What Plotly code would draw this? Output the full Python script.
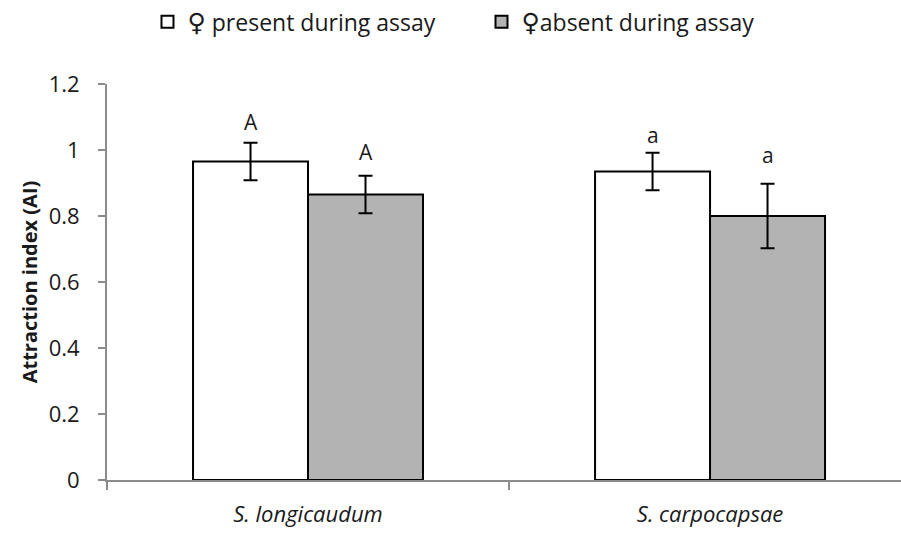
import plotly.graph_objects as go

# Nematode species on the x axis
species = ["S. longicaudum", "S. carpocapsae"]

# Mean attraction index and standard error for each treatment
present_mean = [0.965, 0.935]
present_err = [0.057, 0.057]
absent_mean = [0.865, 0.800]
absent_err = [0.057, 0.098]

# Significance letters and the height (AI units) at which they are written
present_sig = ["A", "a"]
absent_sig = ["A", "a"]
present_sig_y = [1.086, 1.045]
absent_sig_y = [0.995, 0.985]

FEMALE = '<span style="font-family:DejaVu Sans;font-size:25px">\u2640</span>'
series_names = [FEMALE + " present during assay", FEMALE + "absent during assay"]

FONT = "Open Sans"
TEXT = "#1a1a1a"
AXIS = "#8c8c8c"
BARGAP = 0.428

fig = go.Figure()
fig.add_trace(go.Bar(
    x=species, y=present_mean, name=series_names[0],
    marker=dict(color="white", line=dict(color="black", width=2)),
    error_y=dict(type="data", array=present_err, color="black",
                 thickness=2, width=7),
))
fig.add_trace(go.Bar(
    x=species, y=absent_mean, name=series_names[1],
    marker=dict(color="#b3b3b3", line=dict(color="black", width=2)),
    error_y=dict(type="data", array=absent_err, color="black",
                 thickness=2, width=7),
))

# Letters above each bar, centred on the bar within its group
offset = (1 - BARGAP) / 4
for i in range(len(species)):
    for dx, lab, yy in ((-offset, present_sig[i], present_sig_y[i]),
                        (offset, absent_sig[i], absent_sig_y[i])):
        fig.add_annotation(x=i + dx, y=yy, text=lab, showarrow=False,
                           xref="x", yref="y", yanchor="middle",
                           font=dict(family=FONT, size=21, color=TEXT))

fig.update_layout(
    width=901, height=534,
    margin=dict(l=107, r=0, t=84, b=54, autoexpand=False),
    paper_bgcolor="white", plot_bgcolor="white",
    barmode="group", bargap=BARGAP, bargroupgap=0,
    font=dict(family=FONT, color=TEXT),
    showlegend=True,
    legend=dict(orientation="h", x=0.051, xanchor="left",
                y=1.157, yanchor="middle",
                font=dict(family=FONT, size=23, color=TEXT),
                entrywidth=289, entrywidthmode="pixels",
                bgcolor="rgba(0,0,0,0)", borderwidth=0),
)
fig.update_xaxes(
    range=[-0.5, 1.475], showgrid=False, zeroline=False, automargin=False,
    showline=True, linecolor=AXIS, linewidth=2,
    ticks="outside", ticklen=8, tickcolor=AXIS, tickwidth=2,
    tickson="boundaries",
    tickfont=dict(family=FONT, size=22, color=TEXT, style="italic"),
    ticklabelstandoff=14,
)
fig.update_yaxes(
    range=[0, 1.2], dtick=0.2, tick0=0, showgrid=False, zeroline=False,
    automargin=False,
    showline=True, linecolor=AXIS, linewidth=2,
    ticks="outside", ticklen=7, tickcolor=AXIS, tickwidth=2,
    tickfont=dict(family=FONT, size=22, color=TEXT),
    ticklabelstandoff=14,
    title=dict(text="<b>Attraction index (AI)</b>", standoff=6,
               font=dict(family=FONT, size=20, color=TEXT)),
)

fig.write_html("out.html")
